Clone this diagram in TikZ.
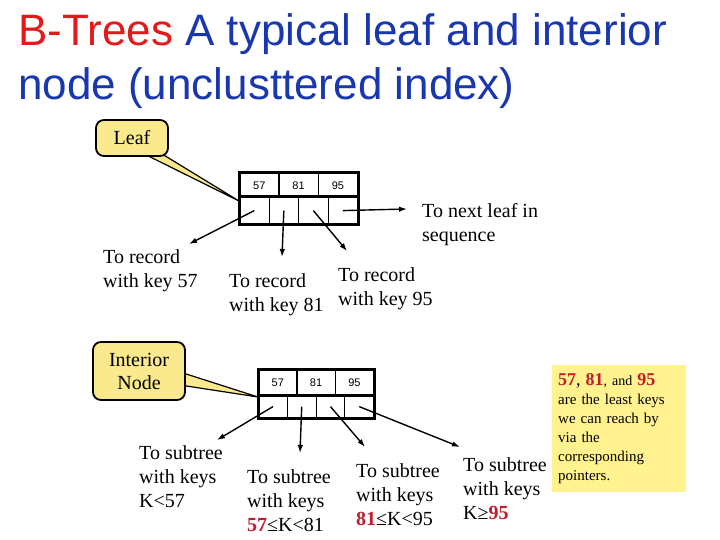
\documentclass[tikz,border=0pt]{standalone}
\usepackage{fontspec}
\setmainfont{Liberation Serif}
\newfontfamily\titlefont{Liberation Sans}
\usepackage{xcolor}
\usepackage{tikz}
\usetikzlibrary{arrows.meta,calc,backgrounds}
\definecolor{titleblue}{HTML}{1937AF}
\definecolor{titlered}{HTML}{E3191B}
\definecolor{keyred}{HTML}{BE1E2D}
\definecolor{calloutfill}{HTML}{FBE98E}
\definecolor{notefill}{HTML}{FFF28F}
\newcommand{\keynum}[1]{\textbf{\textcolor{keyred}{#1}}}

\begin{document}
\begin{tikzpicture}[x=1pt,y=-1pt,>={Latex[length=8pt,width=5.5pt]},
    keycell/.style={draw,line width=1.2pt,anchor=north west,inner sep=0pt,
      minimum height=24pt,font=\titlefont\fontsize{11}{11}\selectfont},
    ptrcell/.style={draw,line width=1.2pt,anchor=north west,inner sep=0pt,minimum height=26pt},
    frame/.style={line width=3pt},
    ptr/.style={->,line width=1.4pt},
    callout/.style={draw,line width=1.8pt,fill=calloutfill,rounded corners=8pt,
      align=center,font=\fontsize{20}{23}\selectfont},
    wedge/.style={draw,line width=1.2pt,fill=calloutfill,line join=round},
    lbl/.style={anchor=base west,inner sep=0pt,align=left,font=\fontsize{20}{24}\selectfont}]
  \useasboundingbox (0,0) rectangle (720,540);

  % title (base = last line)
  \node[anchor=base west,inner sep=0pt,align=left,text=titleblue,
    font=\titlefont\fontsize{44}{54}\selectfont] (title) at (18,100)
    {\textcolor{titlered}{B-Trees} A typical leaf and interior\\node (unclusttered index)};

  % leaf node
  \foreach \k [count=\i] in {57,81,95}
    \node[keycell,minimum width=39.33pt] (lk\i) at ({239+39.33*(\i-1)},173) {\k};
  \foreach \i in {1,...,4}
    \node[ptrcell,minimum width=29.5pt] (lp\i) at ({239+29.5*(\i-1)},197) {};
  \draw[frame] (lk1.north west) rectangle (lp4.south east);
  \draw[frame] (lp1.north west) -- (lp4.north east);

  \node[callout,minimum width=72pt,minimum height=36pt] (leafcall) at (132,138) {Leaf};
  \begin{pgfonlayer}{background}
    \draw[wedge] ($(leafcall.south)+(6,-6)$) -- ($(lp1.north west)+(0,4)$)
      -- ($(leafcall.south)+(25,-6)$) -- cycle;
  \end{pgfonlayer}

  \coordinate (lend1) at (189,244);
  \coordinate (lend2) at (282,257);
  \coordinate (lend3) at (347,251);
  \coordinate (lend4) at (407,209);
  \draw[ptr] (lp1.center) -- (lend1);
  \draw[ptr] (lp2.center) -- (lend2);
  \draw[ptr] (lp3.center) -- (lend3);
  \draw[ptr] (lp4.center) -- (lend4);

  \node[lbl] (rec57) at (103,287) {To record\\with key 57};
  \node[lbl] (rec81) at (229,311) {To record\\with key 81};
  \node[lbl] (rec95) at (338,305) {To record\\with key 95};
  \node[lbl] (nextleaf) at (422,241) {To next leaf in\\sequence};

  % interior node
  \foreach \k [count=\i] in {57,81,95}
    \node[keycell,minimum width=38.33pt,minimum height=26pt] (ik\i) at ({258+38.33*(\i-1)},369) {\k};
  \foreach \i in {1,...,4}
    \node[ptrcell,minimum width=28.75pt,minimum height=22pt] (ip\i) at ({258+28.75*(\i-1)},395) {};
  \draw[frame] (ik1.north west) rectangle (ip4.south east);
  \draw[frame] (ip1.north west) -- (ip4.north east);

  \node[callout,minimum width=92pt,minimum height=58pt] (intcall) at (139,371) {Interior\\Node};
  \begin{pgfonlayer}{background}
    \draw[wedge] ($(intcall.east)+(-6,1)$) -- ($(ip1.north west)+(0,2)$)
      -- ($(intcall.east)+(-6,14)$) -- cycle;
  \end{pgfonlayer}

  \coordinate (iend1) at (217,440);
  \coordinate (iend2) at (300,453);
  \coordinate (iend3) at (365,447);
  \coordinate (iend4) at (460,447);
  \draw[ptr] (ip1.center) -- (iend1);
  \draw[ptr] (ip2.center) -- (iend2);
  \draw[ptr] (ip3.center) -- (iend3);
  \draw[ptr] (ip4.center) -- (iend4);

  \node[lbl] (sub1) at (139,507) {To subtree\\with keys\\K<57};
  \node[lbl] (sub2) at (247,531) {To subtree\\with keys\\\keynum{57}≤K<81};
  \node[lbl] (sub3) at (356,525) {To subtree\\with keys\\\keynum{81}≤K<95};
  \node[lbl] (sub4) at (463,519) {To subtree\\with keys\\K≥\keynum{95}};

  % note
  \node[anchor=north west,fill=notefill,minimum width=134pt,minimum height=127pt,
    inner xsep=6pt,inner ysep=7pt,text width=122pt,align=left,
    font=\fontsize{15}{19}\selectfont] (note) at (552,365)
    {{\fontsize{18}{20}\selectfont\keynum{57}, \keynum{81}}{\fontsize{14}{20}\selectfont, and }{\fontsize{18}{20}\selectfont\keynum{95}}\\
     are the least keys\\we can reach by\\via the\\corresponding\\pointers.};
\end{tikzpicture}
\end{document}
